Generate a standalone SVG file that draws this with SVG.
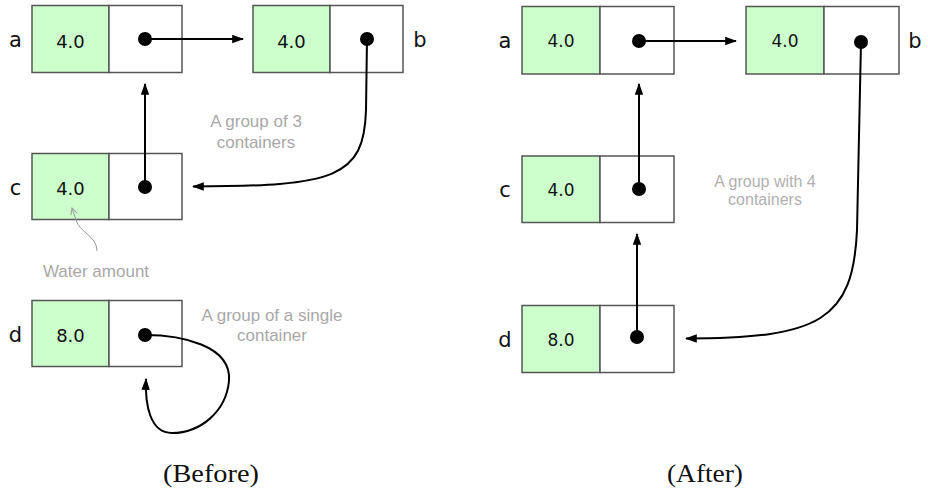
<svg xmlns="http://www.w3.org/2000/svg" width="928" height="489" viewBox="0 0 928 489">
<defs>
<style>
.val{fill:#ccffcc;stroke:#555;stroke-width:1.5}
.ptr{fill:#fff;stroke:#555;stroke-width:1.5}
.t{font-family:"DejaVu Sans",Verdana,sans-serif;font-size:18px;fill:#111;text-anchor:middle}
.t2{font-family:"DejaVu Sans",Verdana,sans-serif;font-size:17px;fill:#111;text-anchor:middle}
.lbl{font-family:"DejaVu Sans",Verdana,sans-serif;font-size:21px;fill:#111;text-anchor:middle}
.note{font-family:"Liberation Sans",Arial,sans-serif;font-size:17px;fill:#a8a8a8;text-anchor:middle}
.note2{font-family:"Liberation Sans",Arial,sans-serif;font-size:16px;fill:#b0b0b0;text-anchor:middle}
.cap{font-family:"Liberation Serif","Times New Roman",serif;font-size:25px;fill:#111;text-anchor:middle}
.con{fill:none;stroke:#000;stroke-width:2}
.dot{fill:#000}
</style>
<marker id="ah" viewBox="0 0 10 10" refX="9" refY="5" markerWidth="6" markerHeight="6" orient="auto" markerUnits="strokeWidth">
<path d="M0,1.5 L10,5 L0,8.5 Z" fill="#000"/>
</marker>
<marker id="gh" viewBox="0 0 10 10" refX="9" refY="5" markerWidth="8" markerHeight="8" orient="auto" markerUnits="strokeWidth">
<path d="M1,1 L9,5 L1,9" fill="none" stroke="#999" stroke-width="1.2"/>
</marker>
</defs>
<rect width="928" height="489" fill="#fff"/>

<!-- Before -->
<g id="before-a">
<rect class="val" x="32" y="5.5" width="77" height="67"/>
<rect class="ptr" x="109" y="5.5" width="73" height="67"/>
<text class="t" x="70.5" y="47.5">4.0</text>
<text class="lbl" x="15.5" y="47">a</text>
</g>
<g id="before-b">
<rect class="val" x="253" y="5.5" width="77" height="67"/>
<rect class="ptr" x="330" y="5.5" width="73" height="67"/>
<text class="t" x="291.5" y="47.5">4.0</text>
<text class="lbl" x="420" y="47">b</text>
</g>
<g id="before-c">
<rect class="val" x="32" y="153.5" width="77" height="66"/>
<rect class="ptr" x="109" y="153.5" width="73" height="66"/>
<text class="t" x="70.5" y="195">4.0</text>
<text class="lbl" x="15.5" y="194.5">c</text>
</g>
<g id="before-d">
<rect class="val" x="32" y="300.5" width="77" height="66"/>
<rect class="ptr" x="109" y="300.5" width="73" height="66"/>
<text class="t" x="70.5" y="342">8.0</text>
<text class="lbl" x="15.5" y="342">d</text>
</g>

<!-- After -->
<g id="after-a">
<rect class="val" x="522" y="6.5" width="78" height="67.5"/>
<rect class="ptr" x="600" y="6.5" width="74" height="67.5"/>
<text class="t2" x="561" y="47">4.0</text>
<text class="lbl" x="505" y="48">a</text>
</g>
<g id="after-b">
<rect class="val" x="746" y="6.5" width="78" height="67.5"/>
<rect class="ptr" x="824" y="6.5" width="75" height="67.5"/>
<text class="t2" x="785" y="47">4.0</text>
<text class="lbl" x="915" y="48">b</text>
</g>
<g id="after-c">
<rect class="val" x="522" y="156" width="78" height="66.5"/>
<rect class="ptr" x="600" y="156" width="74" height="66.5"/>
<text class="t2" x="561" y="196">4.0</text>
<text class="lbl" x="505" y="197">c</text>
</g>
<g id="after-d">
<rect class="val" x="522" y="305.5" width="78" height="67"/>
<rect class="ptr" x="600" y="305.5" width="74" height="67"/>
<text class="t2" x="561" y="346">8.0</text>
<text class="lbl" x="505" y="347">d</text>
</g>

<g id="connectors">
<!-- before -->
<path class="con" d="M145,39 L243,39" marker-end="url(#ah)"/>
<path class="con" d="M145,187 L145,84" marker-end="url(#ah)"/>
<path class="con" d="M367,39 L366,110 C364,178 335,186 193,186.5" marker-end="url(#ah)"/>
<path class="con" d="M145,335 C180,335 232,345 229,381 C226,412 200,433 172,433 C150,433 145,405 146,379" marker-end="url(#ah)"/>
<path d="M97,251 C97,236 79,232 76,220 L72,208" fill="none" stroke="#999" stroke-width="1" marker-end="url(#gh)"/>
<!-- after -->
<path class="con" d="M639,41 L736,41" marker-end="url(#ah)"/>
<path class="con" d="M639,189 L639,84" marker-end="url(#ah)"/>
<path class="con" d="M637,337 L637,234" marker-end="url(#ah)"/>
<path class="con" d="M861,42 L857,230 C853,320 820,338.5 686,338.5" marker-end="url(#ah)"/>
</g>

<g id="dots">
<circle class="dot" cx="145" cy="39" r="7"/>
<circle class="dot" cx="367" cy="39" r="7"/>
<circle class="dot" cx="145" cy="187" r="7"/>
<circle class="dot" cx="145" cy="335" r="7"/>
<circle class="dot" cx="639" cy="41" r="7"/>
<circle class="dot" cx="861" cy="42" r="7"/>
<circle class="dot" cx="639" cy="189" r="7"/>
<circle class="dot" cx="637" cy="337" r="7"/>
</g>

<g id="notes">
<text class="note" x="256" y="126.5">A group of 3</text>
<text class="note" x="256" y="147.5">containers</text>
<text class="note" x="96" y="277">Water amount</text>
<text class="note" x="272" y="321">A group of a single</text>
<text class="note" x="272" y="341">container</text>
<text class="note2" x="765" y="187">A group with 4</text>
<text class="note2" x="765" y="205">containers</text>
<text class="cap" x="211" y="482" textLength="96" lengthAdjust="spacingAndGlyphs">(Before)</text>
<text class="cap" x="705" y="482" textLength="76" lengthAdjust="spacingAndGlyphs">(After)</text>
</g>
</svg>
